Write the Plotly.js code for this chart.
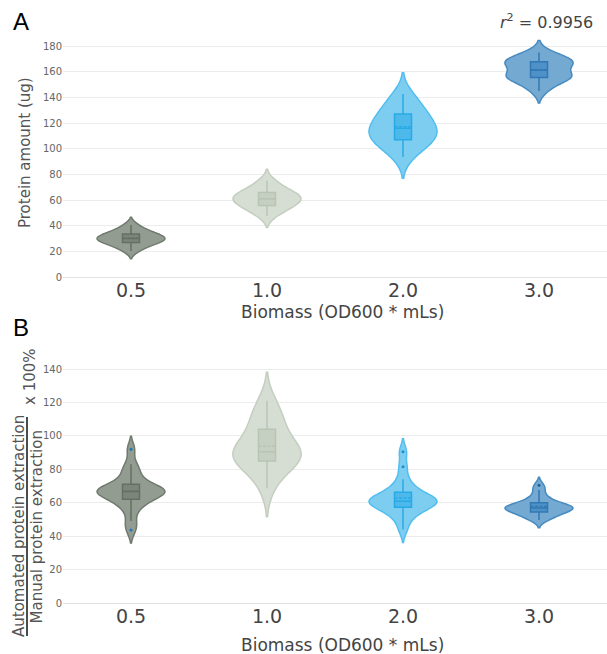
<!DOCTYPE html>
<html>
<head>
<meta charset="utf-8">
<script src="https://cdn.plot.ly/plotly-3.0.1.min.js"></script>
<style>html,body{margin:0;padding:0;background:#fff;}#chart{width:607px;height:654px;}</style>
</head>
<body>
<div id="chart"></div>
<script>
// Categories (biomass, OD600 * mLs)
const categories = ['0.5', '1.0', '2.0', '3.0'];

// Panel A: protein amount (ug) samples per biomass
const proteinA_05 = [20.3, 23, 25, 26.3, 27.3, 28.3, 29, 29.6, 30.3, 31.2, 32.2, 33, 34, 35.5, 37.5, 40.5];
const proteinA_10 = [47.5, 51, 53.5, 55, 56.5, 58, 59.5, 60.5, 61.5, 62.5, 63.5, 65, 66.5, 68.5, 71, 75];
const proteinA_20 = [93.5, 100, 104, 106, 108, 110, 112, 115, 117, 119, 122, 126, 128, 132, 137, 142.6];
const proteinA_30 = [145, 150, 153.5, 155, 156, 157, 157.5, 158.5, 164, 166, 167, 167.5, 168, 169.5, 172, 175];

// Panel B: automated / manual extraction x 100% samples per biomass
const ratioB_05 = [43.7, 49, 56, 59, 61, 63, 64.5, 65.5, 66, 66.5, 67, 67.5, 68, 69, 70, 72, 76, 79, 83, 92];
const ratioB_10 = [68.6, 78, 82, 84, 86, 88, 89, 90, 91, 93, 97, 102, 106, 110, 115, 121];
const ratioB_20 = [44, 50, 53, 55, 56.5, 58, 59, 60, 60.5, 60.7, 61, 62, 63, 64, 65.5, 67, 70, 74, 81.5, 90.5];
const ratioB_30 = [49.7, 51, 52.5, 53, 54, 55, 55.8, 56.3, 56.6, 56.8, 57, 57.5, 58, 58.5, 59.5, 60.5, 62, 64, 67.6, 70.5];

const rSquaredText = '<i>r</i><sup>2</sup> = 0.9956';

const styles = [
  {fill: 'rgb(146,156,145)', line: 'rgb(112,122,111)', box: 'rgba(95,108,94,0.45)', boxline: 'rgb(100,112,99)', marker: '#1f77b4'},
  {fill: 'rgb(214,221,210)', line: 'rgb(196,206,192)', box: 'rgba(170,182,166,0.35)', boxline: 'rgb(185,196,181)', marker: '#9fb09a'},
  {fill: 'rgb(125,205,240)', line: 'rgb(82,190,240)', box: 'rgba(30,165,230,0.5)', boxline: 'rgb(40,170,230)', marker: '#1d8fcf'},
  {fill: 'rgb(116,170,210)', line: 'rgb(70,138,192)', box: 'rgba(40,120,185,0.5)', boxline: 'rgb(50,120,180)', marker: '#1f5f9a'}
];

function violin(cat, vals, st, xa, ya, bw) {
  const t = {
    type: 'violin',
    x: vals.map(() => cat),
    y: vals,
    xaxis: xa, yaxis: ya,
    width: 0.5,
    fillcolor: st.fill,
    line: {color: st.line, width: 1.5},
    box: {visible: true, width: 0.25, fillcolor: st.box, line: {color: st.boxline, width: 1.5}},
    meanline: {visible: true, color: st.boxline, width: 1.5},
    points: 'outliers',
    marker: {color: st.marker, size: 3},
    showlegend: false,
    hoverinfo: 'y'
  };
  if (bw) t.bandwidth = bw;
  return t;
}

const setA = [proteinA_05, proteinA_10, proteinA_20, proteinA_30];
const setB = [ratioB_05, ratioB_10, ratioB_20, ratioB_30];
const bwA = [null, null, null, 4.7];
const traces = [];
categories.forEach((c, i) => traces.push(violin(c, setA[i], styles[i], 'x', 'y', bwA[i])));
categories.forEach((c, i) => traces.push(violin(c, setB[i], styles[i], 'x2', 'y2', null)));

const W = 607, H = 654;
const px = v => v / W;
const py = v => 1 - v / H;
const FONT = 'DejaVu Sans, Verdana, sans-serif';

const xCommon = {
  type: 'category',
  categoryorder: 'array', categoryarray: categories,
  range: [-0.5, 3.5],
  domain: [px(63), 1],
  showgrid: false, zeroline: false, showline: false,
  ticks: '',
  tickfont: {family: FONT, size: 19, color: '#444'},
  fixedrange: true
};
const yCommon = {
  showgrid: true, gridcolor: '#ececec', gridwidth: 1,
  zeroline: true, zerolinecolor: '#e2e2e2', zerolinewidth: 1,
  showline: false, ticks: '', dtick: 20,
  tickfont: {family: FONT, size: 10, color: '#666'},
  fixedrange: true
};

const layout = {
  width: W, height: H,
  margin: {l: 0, r: 0, t: 0, b: 0, pad: 0},
  paper_bgcolor: '#fff', plot_bgcolor: '#fff',
  font: {family: FONT, color: '#444'},
  showlegend: false,
  xaxis: Object.assign({}, xCommon, {anchor: 'y'}),
  yaxis: Object.assign({}, yCommon, {anchor: 'x', range: [0, 185], domain: [py(277), py(277 - 185 * 231 / 180)]}),
  xaxis2: Object.assign({}, xCommon, {anchor: 'y2'}),
  yaxis2: Object.assign({}, yCommon, {anchor: 'x2', range: [0, 145], domain: [py(603), py(603 - 145 * 234 / 140)]}),
  annotations: [
    {text: 'A', xref: 'paper', yref: 'paper', x: px(11), y: py(22), xanchor: 'left', yanchor: 'middle', showarrow: false,
     font: {family: 'Liberation Sans, Arial, sans-serif', size: 24, color: '#000'}},
    {text: 'B', xref: 'paper', yref: 'paper', x: px(11), y: py(328), xanchor: 'left', yanchor: 'middle', showarrow: false,
     font: {family: 'Liberation Sans, Arial, sans-serif', size: 24, color: '#000'}},
    {text: rSquaredText, xref: 'paper', yref: 'paper', x: px(595), y: py(22), xanchor: 'right', yanchor: 'middle', showarrow: false,
     font: {family: FONT, size: 16, color: '#444'}},
    {text: 'Protein amount (ug)', xref: 'paper', yref: 'paper', x: px(25), y: py(153), textangle: -90, xanchor: 'center', yanchor: 'middle', showarrow: false,
     font: {family: FONT, size: 15, color: '#555'}},
    {text: 'Biomass (OD600 * mLs)', xref: 'paper', yref: 'paper', x: px(342), y: py(312), xanchor: 'center', yanchor: 'middle', showarrow: false,
     font: {family: FONT, size: 17, color: '#444'}},
    {text: 'Biomass (OD600 * mLs)', xref: 'paper', yref: 'paper', x: px(342), y: py(645), xanchor: 'center', yanchor: 'middle', showarrow: false,
     font: {family: FONT, size: 17, color: '#444'}},
    {text: 'Automated protein extraction', xref: 'paper', yref: 'paper', x: px(18.5), y: py(526.5), textangle: -90, xanchor: 'center', yanchor: 'middle', showarrow: false,
     font: {family: FONT, size: 15, color: '#555'}},
    {text: 'Manual protein extraction', xref: 'paper', yref: 'paper', x: px(36), y: py(527.5), textangle: -90, xanchor: 'center', yanchor: 'middle', showarrow: false,
     font: {family: FONT, size: 15, color: '#555'}},
    {text: 'x 100%', xref: 'paper', yref: 'paper', x: px(30), y: py(377), textangle: -90, xanchor: 'center', yanchor: 'middle', showarrow: false,
     font: {family: FONT, size: 15, color: '#555'}}
  ],
  shapes: [
    {type: 'line', xref: 'paper', yref: 'paper', x0: px(27), x1: px(27), y0: py(417), y1: py(636), line: {color: '#111', width: 1.5}}
  ]
};

Plotly.newPlot('chart', traces, layout, {staticPlot: true, displayModeBar: false});
</script>
</body>
</html>
